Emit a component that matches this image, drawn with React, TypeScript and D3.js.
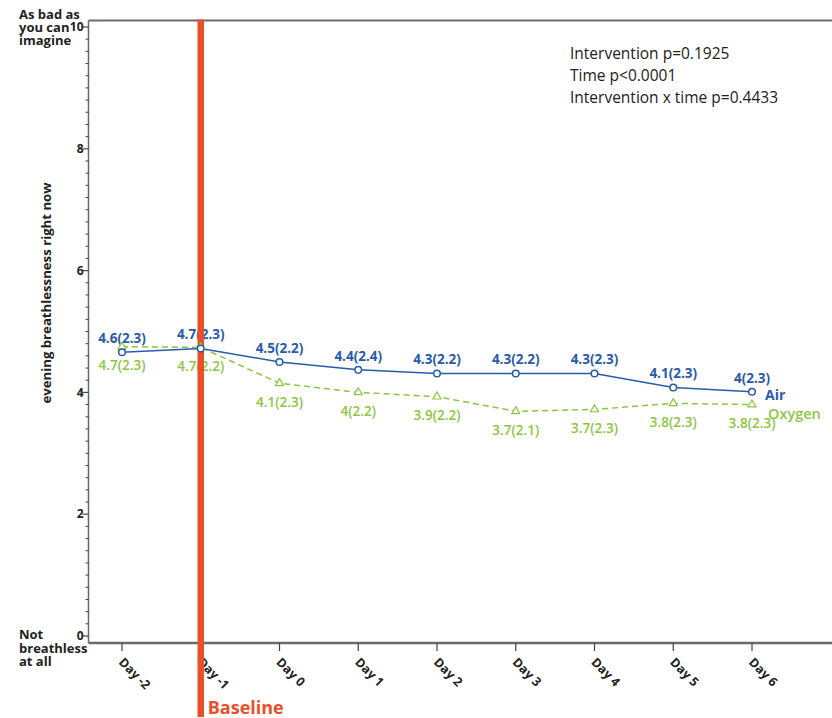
import React from "react";
import * as d3 from "d3";

const days = ["Day -2", "Day -1", "Day 0", "Day 1", "Day 2", "Day 3", "Day 4", "Day 5", "Day 6"];
const airValues = [4.66, 4.72, 4.5, 4.37, 4.31, 4.31, 4.31, 4.08, 4.01];
const oxygenValues = [4.75, 4.74, 4.15, 4.0, 3.93, 3.69, 3.72, 3.82, 3.8];
const airLabels = ["4.6(2.3)", "4.7(2.3)", "4.5(2.2)", "4.4(2.4)", "4.3(2.2)", "4.3(2.2)", "4.3(2.3)", "4.1(2.3)", "4(2.3)"];
const oxygenLabels = ["4.7(2.3)", "4.7(2.2)", "4.1(2.3)", "4(2.2)", "3.9(2.2)", "3.7(2.1)", "3.7(2.3)", "3.8(2.3)", "3.8(2.3)"];
const yTicks = [0, 2, 4, 6, 8, 10];
const statsLines = ["Intervention p=0.1925", "Time p<0.0001", "Intervention x time p=0.4433"];
const baselineDay = "Day -1";

const BLUE = "#2a5ba8";
const GREEN = "#8cc63f";
const RED = "#e8502a";
const AXIS = "#6a6a6a";
const FONT = "'Open Sans', 'DejaVu Sans', sans-serif";

export default function App() {
  const W = 832, H = 718;
  const left = 88.5, top = 20.5, bottomAxis = 643;
  const x = d3.scalePoint<string>().domain(days).range([122, 752]).padding(0);
  const y = d3.scaleLinear().domain([0, 10]).range([636, 27]);
  const minor = d3.range(0, 10.001, 0.2).filter((v) => Math.abs(v / 2 - Math.round(v / 2)) > 1e-6);

  const airLine = d3.line<number>().x((_, i) => x(days[i])!).y((d) => y(d));
  const oxyLine = d3.line<number>().x((_, i) => x(days[i])!).y((d) => y(d));
  const tri = d3.symbol().type(d3.symbolTriangle).size(28)()!;
  const bx = x(baselineDay)!;

  return (
    <svg width={W} height={H} style={{ position: "absolute", left: 0, top: 0, background: "#fff" }} fontFamily={FONT}>
      {/* frame */}
      <line x1={left} x2={W} y1={top} y2={top} stroke={AXIS} strokeWidth={2} />
      <line x1={left} x2={W} y1={bottomAxis} y2={bottomAxis} stroke={AXIS} strokeWidth={2.5} />
      <line x1={left} x2={left} y1={top} y2={bottomAxis} stroke={AXIS} strokeWidth={1.5} />

      {/* y ticks */}
      {minor.map((v) => (
        <line key={"m" + v} x1={left - 3} x2={left} y1={y(v)} y2={y(v)} stroke="#444" strokeWidth={1} />
      ))}
      {yTicks.map((v) => (
        <g key={"t" + v}>
          <line x1={left - 6} x2={left} y1={y(v)} y2={y(v)} stroke="#444" strokeWidth={1.2} />
          <text x={left - 5} y={y(v)} dy="0.35em" textAnchor="end" fontSize={12} fontWeight="bold" fill="#222">
            {v}
          </text>
        </g>
      ))}

      {/* y extremes labels */}
      <g fontSize={13} fontWeight="bold" fill="#222">
        <text x={19} y={19}>As bad as</text>
        <text x={19} y={32}>you can</text>
        <text x={19} y={45}>imagine</text>
        <text x={19} y={639}>Not</text>
        <text x={19} y={653}>breathless</text>
        <text x={19} y={666}>at all</text>
      </g>

      {/* y title */}
      <text transform="translate(51,293) rotate(-90)" textAnchor="middle" fontSize={13.2} fontWeight="bold" fill="#222">
        evening breathlessness right now
      </text>

      {/* x ticks */}
      {days.map((d) => (
        <g key={d}>
          <line x1={x(d)!} x2={x(d)!} y1={bottomAxis} y2={bottomAxis + 8} stroke="#444" strokeWidth={1.2} />
          <text transform={`translate(${x(d)! - 4},663) rotate(45)`} fontSize={12.5} fontWeight="bold" fill="#222">
            {d}
          </text>
        </g>
      ))}

      {/* stats */}
      {statsLines.map((s, i) => (
        <text key={s} x={570} y={59 + i * 22} fontSize={15.5} fill="#222">
          {s}
        </text>
      ))}

      {/* lines */}
      <path d={oxyLine(oxygenValues)!} fill="none" stroke={GREEN} strokeWidth={1.5} strokeDasharray="6,4" />
      <path d={airLine(airValues)!} fill="none" stroke={BLUE} strokeWidth={1.5} />

      {/* labels */}
      {airValues.map((v, i) => (
        <text key={"al" + i} x={x(days[i])!} y={y(v) - 14} dy="0.35em" textAnchor="middle" fontSize={13.5} fontWeight="bold" fill={BLUE}>
          {airLabels[i]}
        </text>
      ))}
      {oxygenValues.map((v, i) => (
        <text key={"ol" + i} x={x(days[i])!} y={y(v) + 19} dy="0.35em" textAnchor="middle" fontSize={13.5} fontWeight={600} fill={GREEN}>
          {oxygenLabels[i]}
        </text>
      ))}

      {/* baseline */}
      <line x1={bx} x2={bx} y1={top - 1} y2={717} stroke={RED} strokeWidth={6.5} />
      <text x={bx + 7} y={714} fontSize={18} fontWeight="bold" fill={RED}>
        Baseline
      </text>

      {/* markers */}
      {oxygenValues.map((v, i) => (
        <path key={"om" + i} d={tri} transform={`translate(${x(days[i])},${y(v)})`} fill="#fff" stroke={GREEN} strokeWidth={1.2} />
      ))}
      {airValues.map((v, i) => (
        <circle key={"am" + i} cx={x(days[i])!} cy={y(v)} r={3.3} fill="#fff" stroke={BLUE} strokeWidth={1.5} />
      ))}

      {/* series names */}
      <text x={765} y={395} dy="0.35em" fontSize={14} fontWeight="bold" fill={BLUE}>Air</text>
      <text x={768} y={414} dy="0.35em" fontSize={14.5} fontWeight={600} fill={GREEN}>Oxygen</text>
    </svg>
  );
}
